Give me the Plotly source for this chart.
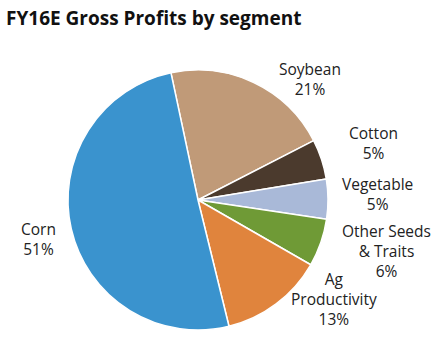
import plotly.graph_objects as go

segments = ["Soybean", "Cotton", "Vegetable", "Other Seeds<br>& Traits", "Ag<br>Productivity", "Corn"]
shares = [21, 5, 5, 6, 13, 51]
colors = ["#C09A78", "#4B3A2D", "#A9B9D8", "#6F9A36", "#E0843D", "#3A93CE"]
# label positions (pixels in the 447x351 canvas)
label_px = [(310, 79), (373, 143), (377, 194), (386, 251), (334, 299), (38, 239)]

W, H = 447, 351
cx, cy, r = 198, 200, 130

fig = go.Figure(go.Pie(
    labels=segments, values=shares, sort=False, direction="clockwise",
    rotation=-12, textinfo="none", hoverinfo="label+percent",
    marker=dict(colors=colors, line=dict(color="white", width=1.5)),
    domain=dict(x=[(cx - r) / W, (cx + r) / W], y=[(H - cy - r) / H, (H - cy + r) / H]),
    showlegend=False,
))

for name, val, (px, py) in zip(segments, shares, label_px):
    fig.add_annotation(x=px / W, y=1 - py / H, xref="paper", yref="paper",
                       text=f"{name}<br>{val}%", showarrow=False,
                       xanchor="center", yanchor="middle",
                       font=dict(family="Open Sans", size=15.5, color="#222222"))

fig.add_annotation(x=4 / W, y=1 - 18 / H, xref="paper", yref="paper",
                   text="<b>FY16E Gross Profits by segment</b>", showarrow=False,
                   xanchor="left", yanchor="middle",
                   font=dict(family="Open Sans", size=19, color="#111111"))

fig.update_layout(width=W, height=H, margin=dict(l=0, r=0, t=0, b=0),
                  paper_bgcolor="white", plot_bgcolor="white")
fig.write_html("out.html")
